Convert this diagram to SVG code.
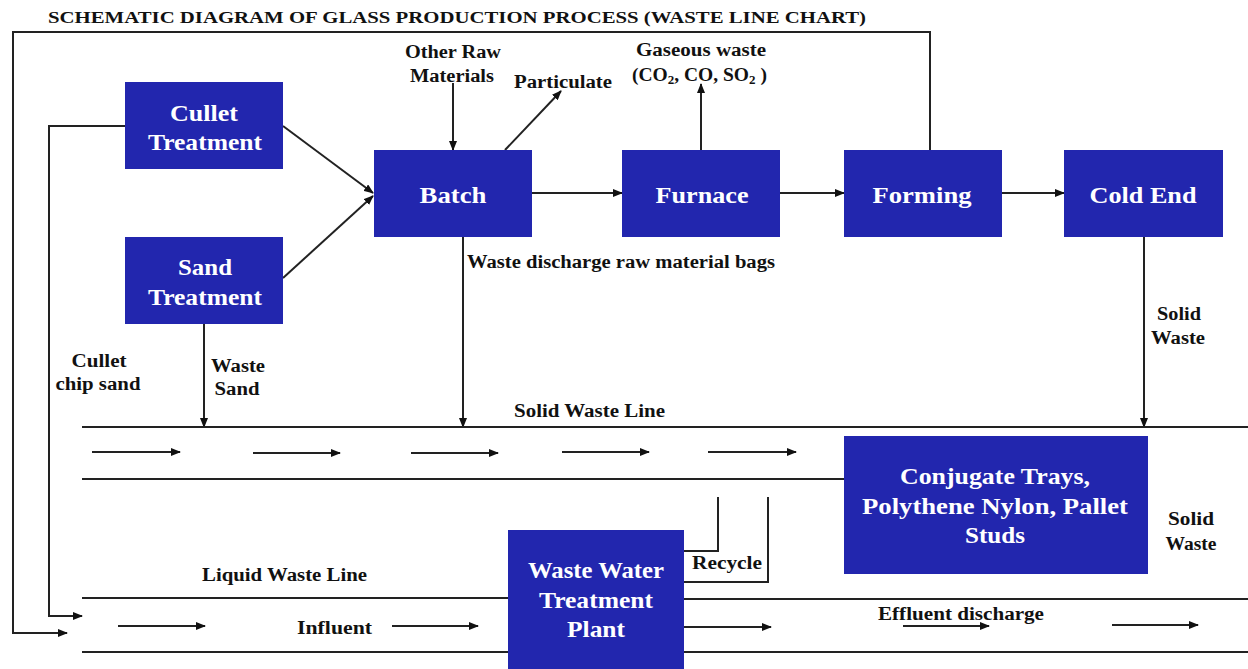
<svg xmlns="http://www.w3.org/2000/svg" width="1248" height="669" viewBox="0 0 1248 669">
<defs>
<marker id="ah" markerWidth="10" markerHeight="8" refX="9" refY="4" orient="auto" markerUnits="userSpaceOnUse">
<path d="M0,0 L10,4 L0,8 Z" fill="#111"/>
</marker>
<style>
.box{fill:#2226AE;}
.bt{font-family:"Liberation Serif",serif;font-weight:bold;font-size:23px;fill:#fff;text-anchor:middle;}
.lb{font-family:"Liberation Serif",serif;font-weight:bold;font-size:18px;fill:#111;}
.c{text-anchor:middle;}
.ln{stroke:#222;stroke-width:2;fill:none;}
.ar{stroke:#222;stroke-width:2;fill:none;marker-end:url(#ah);}
</style>
</defs>
<rect width="1248" height="669" fill="#fff"/>
<text x="48" y="23" class="lb" style="font-size:17.5px" textLength="818" lengthAdjust="spacingAndGlyphs">SCHEMATIC DIAGRAM OF GLASS PRODUCTION PROCESS (WASTE LINE CHART)</text>

<g id="connectors">
<polyline class="ar" points="930,150 930,32 13,32 13,633 67,633"/>
<polyline class="ar" points="125,126 49,126 49,616 82,616"/>
<line class="ar" x1="283" y1="126" x2="373" y2="193"/>
<line class="ar" x1="283" y1="278" x2="373" y2="196"/>
<line class="ar" x1="453" y1="83" x2="453" y2="150"/>
<line class="ar" x1="505" y1="150" x2="561" y2="91"/>
<line class="ar" x1="532" y1="193" x2="622" y2="193"/>
<line class="ar" x1="701" y1="150" x2="701" y2="84"/>
<line class="ar" x1="780" y1="193" x2="844" y2="193"/>
<line class="ar" x1="1002" y1="193" x2="1064" y2="193"/>
<line class="ar" x1="463" y1="237" x2="463" y2="427"/>
<line class="ar" x1="204" y1="324" x2="204" y2="427"/>
<line class="ar" x1="1144" y1="237" x2="1144" y2="427"/>
<line class="ln" x1="82" y1="427" x2="1248" y2="427"/>
<line class="ln" x1="82" y1="479" x2="844" y2="479"/>
<line class="ar" x1="92" y1="452" x2="180" y2="452"/>
<line class="ar" x1="253" y1="453" x2="340" y2="453"/>
<line class="ar" x1="411" y1="453" x2="498" y2="453"/>
<line class="ar" x1="562" y1="452" x2="649" y2="452"/>
<line class="ar" x1="708" y1="452" x2="796" y2="452"/>
<polyline class="ln" points="718,497 718,551 684,551"/>
<polyline class="ln" points="768,497 768,582 684,582"/>
<line class="ln" x1="82" y1="598" x2="508" y2="598"/>
<line class="ln" x1="684" y1="599" x2="1248" y2="599"/>
<line class="ln" x1="82" y1="652" x2="508" y2="652"/>
<line class="ln" x1="684" y1="652" x2="1248" y2="652"/>
<line class="ar" x1="118" y1="626" x2="205" y2="626"/>
<line class="ar" x1="392" y1="626" x2="478" y2="626"/>
<line class="ar" x1="684" y1="627" x2="771" y2="627"/>
<line class="ar" x1="903" y1="626" x2="989" y2="626"/>
<line class="ar" x1="1112" y1="625" x2="1198" y2="625"/>
</g>

<g id="cullet">
<rect class="box" x="125" y="82" width="158" height="87"/>
<text class="bt" x="204" y="121" textLength="68" lengthAdjust="spacingAndGlyphs">Cullet</text>
<text class="bt" x="205" y="150" textLength="114" lengthAdjust="spacingAndGlyphs">Treatment</text>
</g>
<g id="sand">
<rect class="box" x="125" y="237" width="158" height="87"/>
<text class="bt" x="205" y="275" textLength="54" lengthAdjust="spacingAndGlyphs">Sand</text>
<text class="bt" x="205" y="305" textLength="114" lengthAdjust="spacingAndGlyphs">Treatment</text>
</g>
<g id="batch">
<rect class="box" x="374" y="150" width="158" height="87"/>
<text class="bt" x="453" y="203" textLength="67" lengthAdjust="spacingAndGlyphs">Batch</text>
</g>
<g id="furnace">
<rect class="box" x="622" y="150" width="158" height="87"/>
<text class="bt" x="702" y="203" textLength="93" lengthAdjust="spacingAndGlyphs">Furnace</text>
</g>
<g id="forming">
<rect class="box" x="844" y="150" width="158" height="87"/>
<text class="bt" x="922" y="203" textLength="99" lengthAdjust="spacingAndGlyphs">Forming</text>
</g>
<g id="coldend">
<rect class="box" x="1064" y="150" width="159" height="87"/>
<text class="bt" x="1143" y="203" textLength="107" lengthAdjust="spacingAndGlyphs">Cold End</text>
</g>
<g id="conjugate">
<rect class="box" x="844" y="436" width="304" height="138"/>
<text class="bt" x="995" y="484" textLength="190" lengthAdjust="spacingAndGlyphs">Conjugate Trays,</text>
<text class="bt" x="995" y="514" textLength="266" lengthAdjust="spacingAndGlyphs">Polythene Nylon, Pallet</text>
<text class="bt" x="995" y="543" textLength="60" lengthAdjust="spacingAndGlyphs">Studs</text>
</g>
<g id="wwtp">
<rect class="box" x="508" y="530" width="176" height="139"/>
<text class="bt" x="596" y="578" textLength="136" lengthAdjust="spacingAndGlyphs">Waste Water</text>
<text class="bt" x="596" y="608" textLength="114" lengthAdjust="spacingAndGlyphs">Treatment</text>
<text class="bt" x="596" y="637" textLength="58" lengthAdjust="spacingAndGlyphs">Plant</text>
</g>

<g id="labels">
<text class="lb c" x="453" y="58" textLength="96" lengthAdjust="spacingAndGlyphs">Other Raw</text>
<text class="lb c" x="452" y="82" textLength="84" lengthAdjust="spacingAndGlyphs">Materials</text>
<text class="lb" x="514" y="88" textLength="98" lengthAdjust="spacingAndGlyphs">Particulate</text>
<text class="lb c" x="701" y="56" textLength="130" lengthAdjust="spacingAndGlyphs">Gaseous waste</text>
<text class="lb" x="632" y="81" style="font-size:19.5px">(CO<tspan font-size="13" dy="3">2</tspan><tspan dy="-3">, CO, SO</tspan><tspan font-size="13" dy="3">2</tspan><tspan dy="-3"> )</tspan></text>
<text class="lb" x="467" y="268" textLength="308" lengthAdjust="spacingAndGlyphs">Waste discharge raw material bags</text>
<text class="lb c" x="1179" y="320" textLength="44" lengthAdjust="spacingAndGlyphs">Solid</text>
<text class="lb c" x="1178" y="344" textLength="54" lengthAdjust="spacingAndGlyphs">Waste</text>
<text class="lb c" x="99" y="367" textLength="55" lengthAdjust="spacingAndGlyphs">Cullet</text>
<text class="lb c" x="98" y="390" textLength="85" lengthAdjust="spacingAndGlyphs">chip sand</text>
<text class="lb c" x="238" y="372" textLength="54" lengthAdjust="spacingAndGlyphs">Waste</text>
<text class="lb c" x="237" y="395" textLength="45" lengthAdjust="spacingAndGlyphs">Sand</text>
<text class="lb" x="514" y="417" textLength="151" lengthAdjust="spacingAndGlyphs">Solid Waste Line</text>
<text class="lb c" x="1191" y="525" textLength="46" lengthAdjust="spacingAndGlyphs">Solid</text>
<text class="lb c" x="1191" y="550" textLength="51" lengthAdjust="spacingAndGlyphs">Waste</text>
<text class="lb" x="692" y="569" textLength="70" lengthAdjust="spacingAndGlyphs">Recycle</text>
<text class="lb" x="202" y="581" textLength="165" lengthAdjust="spacingAndGlyphs">Liquid Waste Line</text>
<text class="lb" x="297" y="634" textLength="75" lengthAdjust="spacingAndGlyphs">Influent</text>
<text class="lb" x="878" y="620" textLength="166" lengthAdjust="spacingAndGlyphs">Effluent discharge</text>
</g>
</svg>
